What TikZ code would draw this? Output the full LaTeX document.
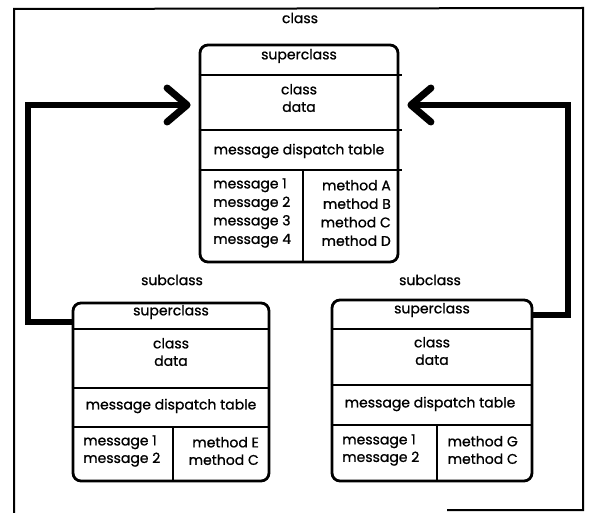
\documentclass[tikz,border=0pt]{standalone}
\usepackage{fontspec}
\setmainfont{Poppins}[FakeBold=0.9]
\usetikzlibrary{arrows.meta}
\begin{document}
\begin{tikzpicture}[x=1pt,y=-1pt,
  classbox/.style={draw, line width=2.8pt, rounded corners=8pt, inner sep=0pt},
  divider/.style={line width=2.8pt},
  txt/.style={font=\fontsize{14}{17.5}\selectfont, inner sep=0pt, align=center},
  widetxt/.style={txt, font=\fontsize{14}{18.5}\selectfont},
  conn/.style={line width=5.5pt, line join=miter,
    -{Straight Barb[length=20pt, width=34pt, line width=7pt, round]}},
  frame/.style={line width=2pt}]
\useasboundingbox (0,0) rectangle (589,513);

% outer frame
\coordinate (ftl) at (14,9);
\coordinate (ftr) at (583,8);
\coordinate (fbl) at (14,513);
\coordinate (fbr) at (583,510);
\coordinate (fbm) at (447,510);
\draw[frame] (fbl) -- (ftl) -- (ftr) -- (fbr) -- (fbm);

% ---------- class ----------
\node[txt] (classlbl) at (300,18) {class};
\node[classbox, minimum width=198pt, minimum height=217pt] (main) at (299,153.5) {};
\draw[divider] (main.west |- 0,75) -- ([xshift=3pt]main.east |- 0,75);
\draw[divider] (main.west |- 0,130) -- ([xshift=3pt]main.east |- 0,130);
\draw[divider] (main.west |- 0,170) -- ([xshift=3pt]main.east |- 0,170);
\draw[divider] (303,170) -- (main.south -| 303,0);
\node[txt] (mainsup) at (299,56) {superclass};
\node[txt] (maindata) at (299,98) {class\\data};
\node[txt] (maindisp) at (299,151) {message dispatch table};
\node[widetxt, align=left, anchor=west] (mainmsg) at (213,213)
  {message 1\\message 2\\message 3\\message 4};
\node[widetxt, align=right, anchor=east] (mainmeth) at (391,213)
  {method A\\method B\\method C\\method D};

% ---------- left subclass ----------
\node[txt] (lsublbl) at (172,280) {subclass};
\node[classbox, minimum width=196pt, minimum height=178pt] (lsub) at (171,392) {};
\draw[divider] (lsub.west |- 0,329) -- (lsub.east |- 0,329);
\draw[divider] (lsub.west |- 0,388) -- (lsub.east |- 0,388);
\draw[divider] (lsub.west |- 0,427) -- (lsub.east |- 0,427);
\draw[divider] (173,427) -- (lsub.south -| 173,0);
\node[txt] (lsubsup) at (171,312) {superclass};
\node[txt] (lsubdata) at (171,352) {class\\data};
\node[txt] (lsubdisp) at (171,406) {message dispatch table};
\node[txt, align=left, anchor=west] (lsubmsg) at (83,451) {message 1\\message 2};
\node[txt, align=right, anchor=east] (lsubmeth) at (259,451) {method E\\method C};

% ---------- right subclass ----------
\node[txt] (rsublbl) at (430,280) {subclass};
\node[classbox, minimum width=200pt, minimum height=181pt] (rsub) at (432,390.5) {};
\draw[divider] (rsub.west |- 0,329) -- (rsub.east |- 0,329);
\draw[divider] (rsub.west |- 0,385) -- (rsub.east |- 0,385);
\draw[divider] (rsub.west |- 0,425) -- (rsub.east |- 0,425);
\draw[divider] (437,425) -- (rsub.south -| 437,0);
\node[txt] (rsubsup) at (432,310) {superclass};
\node[txt] (rsubdata) at (432,351) {class\\data};
\node[txt] (rsubdisp) at (430,404) {message dispatch table};
\node[txt, align=left, anchor=west] (rsubmsg) at (342,450) {message 1\\message 2};
\node[txt, align=right, anchor=east] (rsubmeth) at (518,450) {method G\\method C};

% ---------- inheritance connectors ----------
\coordinate (lb1) at (28,322);
\coordinate (lb2) at (28,105);
\coordinate (rb1) at (568,315);
\coordinate (rb2) at (568,105);
\draw[conn, shorten >=8pt] (lsub.west |- lb1) -- (lb1) -- (lb2) -- (main.west |- lb2);
\draw[conn, shorten >=8pt] (rsub.east |- rb1) -- (rb1) -- (rb2) -- (main.east |- rb2);
\end{tikzpicture}
\end{document}
